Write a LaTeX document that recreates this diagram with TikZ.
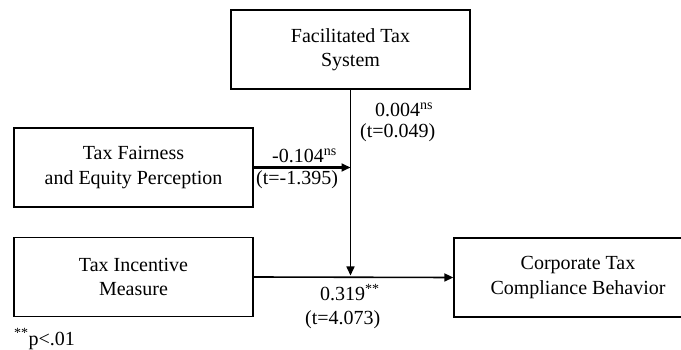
\documentclass[tikz,border=0pt]{standalone}
\usepackage{fontspec}
\setmainfont{Liberation Serif}
\usetikzlibrary{arrows.meta}
\begin{document}
\begin{tikzpicture}[x=1pt,y=-1pt,
  box/.style={draw=black,line width=1.3pt,minimum width=239pt,minimum height=79pt,
    align=center,inner sep=0pt,font=\fontsize{20}{24.5}\selectfont},
  conn/.style={line width=1.6pt,-{Triangle[length=9pt,width=8pt]}},
  lbl/.style={inner sep=0pt,anchor=base west,font=\fontsize{20}{24.5}\selectfont}]
\clip (0,0) rectangle (681,350);
\useasboundingbox (0,0) rectangle (681,350);
\node[box] (fts) at (350.5,49.5) {Facilitated Tax\\System};
\node[box] (tfe) at (133.5,167.5) {Tax Fairness\\and Equity Perception};
\node[box] (tim) at (133.5,277) {Tax Incentive\\Measure};
\node[box,minimum width=248pt] (ctc) at (578,277.5) {Corporate Tax\\Compliance Behavior};
\draw[conn,line width=2.2pt] (tfe.east) -- (tfe.east -| fts.south);
\draw[conn] (fts.south) -- ([yshift=1.5pt]fts.south |- tim.east);
\draw[conn] (tim.east) -- (ctc.west);
\node[lbl] (l1a) at (375,117) {0.004\textsuperscript{ns}};
\node[lbl] (l1b) at (360,138) {(t=0.049)};
\node[lbl] (l2a) at (272,163) {-0.104\textsuperscript{ns}};
\node[lbl] (l2b) at (256,185) {(t=-1.395)};
\node[lbl] (l3a) at (320,301) {0.319\textsuperscript{**}};
\node[lbl] (l3b) at (305,324) {(t=4.073)};
\node[lbl] (fn) at (14,345) {\textsuperscript{**}p<.01};
\end{tikzpicture}
\end{document}
